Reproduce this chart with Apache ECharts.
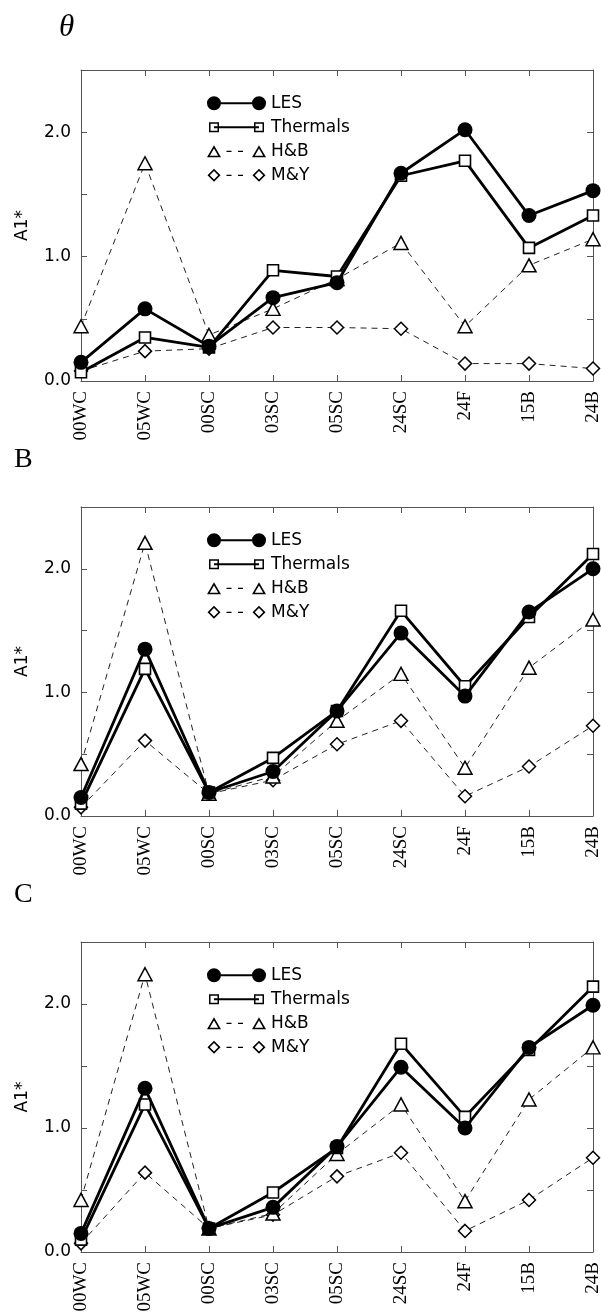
<!DOCTYPE html>
<html>
<head>
<meta charset="utf-8">
<script src="https://cdn.jsdelivr.net/npm/echarts@6/dist/echarts.min.js"></script>
<style>
  html, body { margin: 0; padding: 0; background: #fff; }
  #chart { width: 601px; height: 1316px; }
</style>
</head>
<body>
<div id="chart"></div>
<script>
// Cases along the horizontal axis
const categories = ['00WC', '05WC', '00SC', '03SC', '05SC', '24SC', '24F', '15B', '24B'];

// Panel headings
const panelLabels = ['θ', 'B', 'C'];

// Values labelled on the A1* axis (ticks every 0.5)
const yLabelValues = [0, 1, 2];

// Panel θ
const lesTheta      = [0.15, 0.58, 0.28, 0.67, 0.79, 1.67, 2.02, 1.33, 1.53];
const thermalsTheta = [0.07, 0.35, 0.27, 0.89, 0.84, 1.65, 1.77, 1.07, 1.33];
const hbTheta       = [0.44, 1.75, 0.37, 0.58, 0.82, 1.11, 0.44, 0.93, 1.14];
const myTheta       = [0.08, 0.24, 0.26, 0.43, 0.43, 0.42, 0.14, 0.14, 0.10];

// Panel B
const lesB      = [0.15, 1.35, 0.19, 0.36, 0.85, 1.48, 0.97, 1.65, 2.00];
const thermalsB = [0.10, 1.19, 0.19, 0.47, 0.85, 1.66, 1.05, 1.61, 2.12];
const hbB       = [0.42, 2.21, 0.18, 0.32, 0.77, 1.15, 0.39, 1.20, 1.59];
const myB       = [0.07, 0.61, 0.18, 0.29, 0.58, 0.77, 0.16, 0.40, 0.73];

// Panel C
const lesC      = [0.15, 1.32, 0.19, 0.36, 0.85, 1.49, 1.00, 1.65, 1.99];
const thermalsC = [0.10, 1.19, 0.19, 0.48, 0.84, 1.68, 1.09, 1.63, 2.14];
const hbC       = [0.42, 2.24, 0.19, 0.31, 0.79, 1.19, 0.41, 1.23, 1.65];
const myC       = [0.07, 0.64, 0.19, 0.30, 0.61, 0.80, 0.17, 0.42, 0.76];

const panelData = [
  [lesTheta, thermalsTheta, hbTheta, myTheta],
  [lesB, thermalsB, hbB, myB],
  [lesC, thermalsC, hbC, myC]
];

// ---- layout ----
const plotLeft = 81;
const plotWidth = 512;
const panelTops = [70, 507, 942];
const panelHeights = [311, 309, 310];
const axisColor = '#555';
const sansFont = 'DejaVu Sans';
const serifFont = 'Liberation Serif';

// ---- legend icons: marker, connecting line, marker (icon box 59 x 14) ----
const anchor = 'M0 0 M59 14 ';
function circle(cx, cy, r) {
  return `M${cx - r} ${cy} A${r} ${r} 0 1 0 ${cx + r} ${cy} A${r} ${r} 0 1 0 ${cx - r} ${cy} Z `;
}
function rectCW(x0, y0, x1, y1) {
  return `M${x0} ${y0} L${x1} ${y0} L${x1} ${y1} L${x0} ${y1} Z `;
}
function rectCCW(x0, y0, x1, y1) {
  return `M${x0} ${y0} L${x0} ${y1} L${x1} ${y1} L${x1} ${y0} Z `;
}
function hollowSquare(cx) {
  return rectCW(cx - 5, 2, cx + 5, 12) + rectCCW(cx - 3.5, 3.5, cx + 3.5, 10.5);
}
function hollowTriangle(cx) {
  return `M${cx} 1 L${cx + 7} 13 L${cx - 7} 13 Z ` +
         `M${cx} 4.2 L${cx - 4.2} 11.4 L${cx + 4.2} 11.4 Z `;
}
function hollowDiamond(cx) {
  return `M${cx} 0.5 L${cx + 6.5} 7 L${cx} 13.5 L${cx - 6.5} 7 Z ` +
         `M${cx} 2.8 L${cx - 4.2} 7 L${cx} 11.2 L${cx + 4.2} 7 Z `;
}
const dashes = rectCW(19.5, 6.4, 24.5, 7.6) + rectCW(31, 6.4, 36, 7.6);

const legendIcons = {
  'LES': 'path://' + anchor + circle(7, 7, 7) + circle(52, 7, 7) + rectCW(14, 6, 45, 8),
  'Thermals': 'path://' + anchor + hollowSquare(7) + hollowSquare(52) + rectCW(7, 6, 52, 8),
  'H&B': 'path://' + anchor + hollowTriangle(7) + hollowTriangle(52) + dashes,
  'M&Y': 'path://' + anchor + hollowDiamond(7) + hollowDiamond(52) + dashes
};
const seriesNames = ['LES', 'Thermals', 'H&B', 'M&Y'];

// ---- marker and line styles per series ----
const seriesStyle = {
  'LES': {
    symbol: 'circle', symbolSize: 15,
    itemStyle: { color: '#000', borderWidth: 0 },
    lineStyle: { color: '#000', width: 2.8, type: 'solid' }
  },
  'Thermals': {
    symbol: 'rect', symbolSize: 11,
    itemStyle: { color: '#fff', borderColor: '#000', borderWidth: 1.6 },
    lineStyle: { color: '#000', width: 2.8, type: 'solid' }
  },
  'H&B': {
    symbol: 'triangle', symbolSize: [14, 13],
    itemStyle: { color: '#fff', borderColor: '#000', borderWidth: 1.5 },
    lineStyle: { color: '#222', width: 1, type: [6, 5] }
  },
  'M&Y': {
    symbol: 'diamond', symbolSize: [13, 13],
    itemStyle: { color: '#fff', borderColor: '#000', borderWidth: 1.5 },
    lineStyle: { color: '#222', width: 1, type: [6, 5] }
  }
};

const grids = [], xAxes = [], yAxes = [], series = [], legends = [], titles = [];

panelTops.forEach((top, p) => {
  grids.push({
    left: plotLeft, top: top, width: plotWidth, height: panelHeights[p],
    containLabel: false, outerBoundsMode: 'none'
  });

  const tick = { show: true, inside: true, length: 6, lineStyle: { color: axisColor, width: 1 } };
  const line = { show: true, onZero: false, lineStyle: { color: axisColor, width: 1 } };

  // bottom axis with case labels
  xAxes.push({
    gridIndex: p, type: 'category', data: categories, boundaryGap: false, position: 'bottom',
    axisLine: line, axisTick: tick, splitLine: { show: false },
    axisLabel: {
      interval: 0, rotate: 90, margin: 10, color: '#000',
      fontFamily: serifFont, fontSize: 19
    }
  });
  // top frame with tick marks
  xAxes.push({
    gridIndex: p, type: 'category', data: categories, boundaryGap: false, position: 'top',
    axisLine: line, axisTick: tick, axisLabel: { show: false }, splitLine: { show: false }
  });
  // left axis
  yAxes.push({
    gridIndex: p, type: 'value', min: 0, max: 2.5, interval: 0.5, position: 'left',
    axisLine: line, axisTick: tick, splitLine: { show: false },
    axisLabel: {
      margin: 10, color: '#000', fontFamily: sansFont, fontSize: 17,
      formatter: v => (yLabelValues.some(t => Math.abs(t - v) < 1e-9) ? v.toFixed(1) : '')
    },
    name: 'A1*', nameLocation: 'middle', nameGap: 50,
    nameTextStyle: { color: '#000', fontFamily: sansFont, fontSize: 17 }
  });
  // right frame with tick marks
  yAxes.push({
    gridIndex: p, type: 'value', min: 0, max: 2.5, interval: 0.5, position: 'right',
    axisLine: line, axisTick: tick, splitLine: { show: false }, axisLabel: { show: false }
  });

  // dashed series first, solid series on top
  [3, 2, 1, 0].forEach(k => {
    const name = seriesNames[k];
    const st = seriesStyle[name];
    series.push({
      name: name, type: 'line',
      xAxisIndex: 2 * p, yAxisIndex: 2 * p,
      data: panelData[p][k],
      symbol: st.symbol, symbolSize: st.symbolSize,
      showSymbol: true, showAllSymbol: true,
      itemStyle: st.itemStyle, lineStyle: st.lineStyle,
      emphasis: { disabled: true }, silent: true, z: 2 + (3 - k)
    });
  });

  legends.push({
    orient: 'vertical', left: 207, top: top + 24.8, padding: 0,
    itemWidth: 59, itemHeight: 14, itemGap: 7, selectedMode: false,
    textStyle: { color: '#000', fontFamily: sansFont, fontSize: 17 },
    data: seriesNames.map(n => ({
      name: n, icon: legendIcons[n],
      itemStyle: { color: '#000', borderWidth: 0, borderColor: 'rgba(0,0,0,0)' }
    }))
  });
});

titles.push({
  text: panelLabels[0], left: 59, top: 12, padding: 0,
  textStyle: { fontFamily: serifFont, fontStyle: 'italic', fontWeight: 'normal', fontSize: 31, color: '#000' }
});
titles.push({
  text: panelLabels[1], left: 14, top: 446, padding: 0,
  textStyle: { fontFamily: serifFont, fontWeight: 'normal', fontSize: 28, color: '#000' }
});
titles.push({
  text: panelLabels[2], left: 14, top: 881, padding: 0,
  textStyle: { fontFamily: serifFont, fontWeight: 'normal', fontSize: 28, color: '#000' }
});

const chart = echarts.init(document.getElementById('chart'), null, { renderer: 'canvas' });
chart.setOption({
  backgroundColor: '#fff',
  animation: false,
  title: titles,
  grid: grids,
  xAxis: xAxes,
  yAxis: yAxes,
  legend: legends,
  series: series
});
</script>
</body>
</html>
